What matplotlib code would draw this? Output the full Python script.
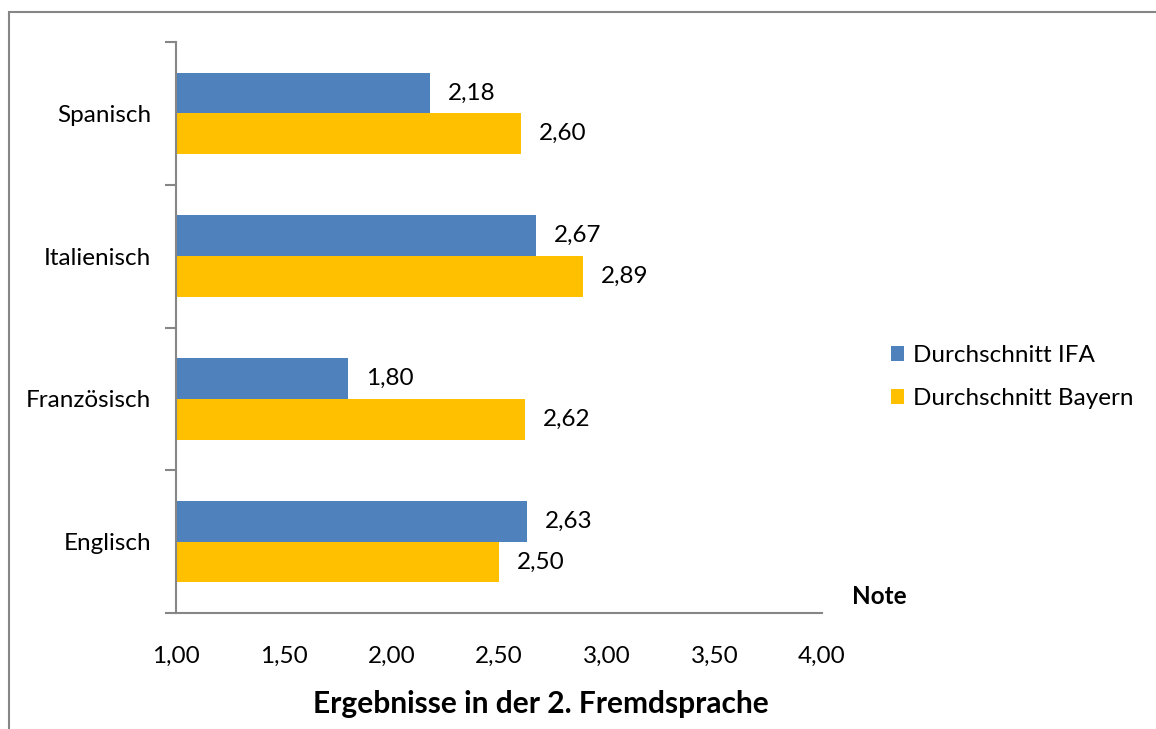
import matplotlib
matplotlib.use("Agg")
import matplotlib.pyplot as plt
from matplotlib.patches import Rectangle
import numpy as np

plt.rcParams['font.family'] = ['Lato', 'DejaVu Sans']

categories = ["Englisch", "Französisch", "Italienisch", "Spanisch"]
ifa = [2.63, 1.80, 2.67, 2.18]
bayern = [2.50, 2.62, 2.89, 2.60]
series_names = ["Durchschnitt IFA", "Durchschnitt Bayern"]
xticks = [1.0, 1.5, 2.0, 2.5, 3.0, 3.5, 4.0]
title = "Ergebnisse in der 2. Fremdsprache"
xlabel = "Note"

blue = "#4F81BD"
yellow = "#FFC000"
gray = "#868686"

W, H = 1156, 729
fig = plt.figure(figsize=(W / 100, H / 100), dpi=100)
ax = fig.add_axes([176 / W, 1 - 613 / H, (822 - 176) / W, (613 - 42) / H])

# outer chart frame
fig.patches.append(Rectangle((9 / W, -0.05), 1.2, 1 - 12 / H + 0.05,
                             transform=fig.transFigure, fill=False,
                             edgecolor=gray, linewidth=1.5))

y = np.arange(len(categories))
h = 1 / 3.5
b1 = ax.barh(y + h / 2, [v - 1 for v in ifa], height=h, left=1, color=blue,
             label=series_names[0])
b2 = ax.barh(y - h / 2, [v - 1 for v in bayern], height=h, left=1, color=yellow,
             label=series_names[1])

fs = 17.5
for bars, vals in ((b1, ifa), (b2, bayern)):
    for rect, v in zip(bars, vals):
        ax.annotate(f"{v:.2f}".replace(".", ","),
                    xy=(v, rect.get_y() + rect.get_height() / 2),
                    xytext=(18, 0), textcoords="offset pixels",
                    ha="left", va="center", fontsize=fs)

ax.set_xlim(1, 4)
ax.set_ylim(-0.5, len(categories) - 0.5)
ax.set_xticks(xticks)
ax.set_xticklabels([f"{t:.2f}".replace(".", ",") for t in xticks], fontsize=fs)
ax.tick_params(axis="x", length=0, pad=24)

ax.set_yticks(np.arange(len(categories) + 1) - 0.5)
ax.set_yticklabels([])
ax.tick_params(axis="y", which="major", length=8, color=gray, width=1.5)
ax.set_yticks(y, minor=True)
ax.set_yticklabels(categories, minor=True, fontsize=fs)
ax.tick_params(axis="y", which="minor", length=0, pad=18)

for s in ("top", "right"):
    ax.spines[s].set_visible(False)
for s in ("left", "bottom"):
    ax.spines[s].set_color(gray)
    ax.spines[s].set_linewidth(1.5)

fig.text(879 / W, 1 - 597 / H, xlabel, ha="center", va="center",
         fontsize=fs, fontweight="bold")
fig.text(541 / W, 1 - 704 / H, title, ha="center", va="center",
         fontsize=21.5, fontweight="bold")

leg = fig.legend(handles=[b1, b2], loc="center left",
                 bbox_to_anchor=(869 / W, 1 - 377 / H), frameon=False,
                 fontsize=fs, handlelength=0.55, handleheight=0.55,
                 handletextpad=0.35, labelspacing=0.9)

fig.savefig("out.png", dpi=100)
